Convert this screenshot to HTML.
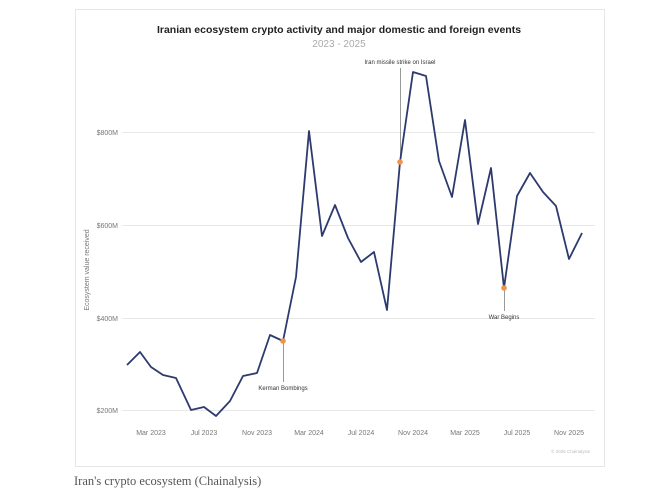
<!DOCTYPE html>
<html><head><style>
body{margin:0;background:#fff;width:670px;height:494px;overflow:hidden;font-family:"Liberation Sans",sans-serif}
</style></head><body>
<svg width="670" height="494" xmlns="http://www.w3.org/2000/svg" style="position:absolute;left:0;top:0">
<rect x="75.5" y="9.5" width="529" height="457" fill="#fff" stroke="#e6e6e6"/>
<text x="339" y="33" text-anchor="middle" font-size="10.5" font-weight="bold" fill="#222">Iranian ecosystem crypto activity and major domestic and foreign events</text>
<text x="339" y="47" text-anchor="middle" font-size="10" fill="#aaa">2023 - 2025</text>
<g stroke="#e8e8e8" stroke-width="1">
<line x1="122" y1="132.5" x2="595" y2="132.5"/><line x1="122" y1="225.5" x2="595" y2="225.5"/>
<line x1="122" y1="318.5" x2="595" y2="318.5"/><line x1="122" y1="410.5" x2="595" y2="410.5"/>
</g>
<g font-size="7" fill="#777" text-anchor="end">
<text x="118" y="135">$800M</text><text x="118" y="228">$600M</text><text x="118" y="321">$400M</text><text x="118" y="413">$200M</text>
</g>
<text transform="translate(89,270) rotate(-90)" font-size="7" fill="#777" text-anchor="middle">Ecosystem value received</text>
<g font-size="7" fill="#777" text-anchor="middle">
<text x="151" y="435">Mar 2023</text><text x="204" y="435">Jul 2023</text><text x="257" y="435">Nov 2023</text>
<text x="309" y="435">Mar 2024</text><text x="361" y="435">Jul 2024</text><text x="413" y="435">Nov 2024</text>
<text x="465" y="435">Mar 2025</text><text x="517" y="435">Jul 2025</text><text x="569" y="435">Nov 2025</text>
</g>
<text x="590" y="453" font-size="4.5" fill="#bbb" text-anchor="end">© 2026 Chainalysis</text>
<g stroke="#999" stroke-width="1">
<line x1="283.5" y1="341" x2="283.5" y2="382"/>
<line x1="400.5" y1="68" x2="400.5" y2="162"/>
<line x1="504.5" y1="288" x2="504.5" y2="311"/>
</g>
<polyline fill="none" stroke="#2d3a6e" stroke-width="1.8" stroke-linejoin="round" points="127,365 140,352 151,367 163,375 176,378 191,410 204,407 216,416 230,401 243,376 257,373 270,335 283,341 296,277 309,131 322,236 335,205 348,238 361,262 374,252 387,310 400,162 413,72 426,76 439,161 452,197 465,120 478,224 491,168 504,288 517,196 530,173 543,192 556,206 569,259 582,233"/>
<g fill="#f0944a"><circle cx="283" cy="341" r="2.8"/><circle cx="400" cy="162" r="2.8"/><circle cx="504" cy="288" r="2.8"/></g>
<g font-size="6" fill="#333" text-anchor="middle">
<text x="283" y="390">Kerman Bombings</text>
<text x="400" y="64">Iran missile strike on Israel</text>
<text x="504" y="319">War Begins</text>
</g>
<text x="74" y="485" font-family="Liberation Serif,serif" font-size="12.5" fill="#555">Iran's crypto ecosystem (Chainalysis)</text>
</svg>
</body></html>
